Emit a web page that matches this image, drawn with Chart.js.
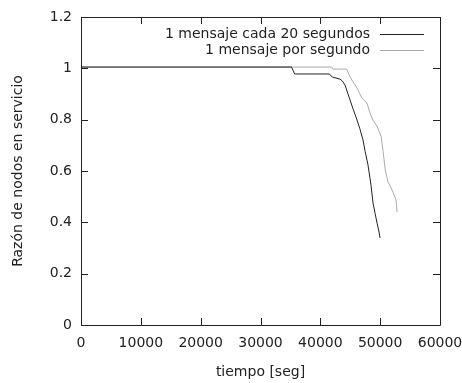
<!DOCTYPE html>
<html>
<head>
    <title>Razón de nodos en servicio</title>
    <style>
        body, html {
            margin: 0;
            padding: 0;
            background: #fff;
        }
        #wrap {
            width: 462px;
            height: 383px;
        }
    </style>
</head>
<body>
    <div id="wrap"><canvas id="grafico"></canvas></div>

    <script src="https://cdn.jsdelivr.net/npm/chart.js"></script>
    <script>
        // 1 mensaje cada 20 segundos
        let tiempoLento = [0, 35200, 35700, 41500, 42000, 43300, 43700, 44125, 44960, 45500, 46130, 46600, 47130,
                           47500, 47970, 48470, 48810, 49150, 49480, 49750, 49980];
        let razonLenta  = [1.005, 1.005, 0.978, 0.978, 0.966, 0.958, 0.950, 0.935, 0.877, 0.840, 0.799, 0.765, 0.721,
                           0.675, 0.623, 0.545, 0.475, 0.435, 0.397, 0.370, 0.339];

        // 1 mensaje por segundo
        let tiempoRapido = [0, 41900, 42100, 44400, 44800, 45290, 46130, 46960, 47800, 48300, 48800, 49470, 50150,
                            50500, 50850, 51310, 51700, 52150, 52650, 52820];
        let razonRapida  = [1.005, 1.005, 0.997, 0.997, 0.975, 0.954, 0.923, 0.884, 0.865, 0.826, 0.798, 0.775, 0.735,
                            0.675, 0.604, 0.557, 0.540, 0.518, 0.487, 0.440];

        let etiquetas = ['1 mensaje cada 20 segundos', '1 mensaje por segundo'];
        let colores = ['#222222', '#aaaaaa'];

        let ticksX = [0, 10000, 20000, 30000, 40000, 50000, 60000];
        let ticksY = [0, 0.2, 0.4, 0.6, 0.8, 1, 1.2];

        let fuente = 'DejaVu Sans';
        Chart.defaults.font.family = fuente;
        Chart.defaults.font.size = 14;
        Chart.defaults.color = '#222';

        function puntos(xs, ys) {
            return xs.map((x, i) => ({ x: x, y: ys[i] }));
        }

        // ticks hacia dentro, marco completo y leyenda estilo gnuplot
        let marco = {
            id: 'marco',
            afterDraw(chart) {
                let ctx = chart.ctx;
                let a = chart.chartArea;
                let sx = chart.scales.x, sy = chart.scales.y;
                let largo = 7;
                ctx.save();
                ctx.strokeStyle = '#222';
                ctx.lineWidth = 1;
                ctx.beginPath();
                ctx.rect(Math.round(a.left) + 0.5, Math.round(a.top) + 0.5,
                         Math.round(a.right - a.left), Math.round(a.bottom - a.top));
                ticksX.forEach(v => {
                    let px = Math.round(sx.getPixelForValue(v)) + 0.5;
                    ctx.moveTo(px, a.bottom); ctx.lineTo(px, a.bottom - largo);
                    ctx.moveTo(px, a.top); ctx.lineTo(px, a.top + largo);
                });
                ticksY.forEach(v => {
                    let py = Math.round(sy.getPixelForValue(v)) + 0.5;
                    ctx.moveTo(a.left, py); ctx.lineTo(a.left + largo, py);
                    ctx.moveTo(a.right, py); ctx.lineTo(a.right - largo, py);
                });
                ctx.stroke();

                // leyenda
                ctx.font = '14px "' + fuente + '"';
                ctx.textAlign = 'right';
                ctx.textBaseline = 'middle';
                let filas = [34, 50];
                etiquetas.forEach((txt, i) => {
                    ctx.fillStyle = '#222';
                    ctx.fillText(txt, 370, filas[i]);
                    ctx.strokeStyle = colores[i];
                    ctx.beginPath();
                    ctx.moveTo(380, filas[i] + 0.5);
                    ctx.lineTo(424, filas[i] + 0.5);
                    ctx.stroke();
                });
                ctx.restore();
            }
        };

        new Chart(document.getElementById('grafico'), {
            type: 'line',
            data: {
                datasets: [{
                    label: etiquetas[0],
                    data: puntos(tiempoLento, razonLenta),
                    borderColor: colores[0],
                    borderWidth: 1,
                    pointRadius: 0,
                    tension: 0
                }, {
                    label: etiquetas[1],
                    data: puntos(tiempoRapido, razonRapida),
                    borderColor: colores[1],
                    borderWidth: 1,
                    pointRadius: 0,
                    tension: 0
                }]
            },
            options: {
                responsive: true,
                maintainAspectRatio: false,
                animation: false,
                layout: { padding: { top: 17, right: 22, left: 0, bottom: 0 } },
                plugins: {
                    legend: { display: false },
                    tooltip: { enabled: false }
                },
                scales: {
                    x: {
                        type: 'linear',
                        min: 0,
                        max: 60000,
                        afterFit: s => { s.height = 58; s.paddingLeft = 0; s.paddingRight = 0; },
                        afterBuildTicks: s => { s.ticks = ticksX.map(v => ({ value: v })); },
                        grid: { display: false, drawTicks: false },
                        border: { display: false },
                        ticks: { padding: 10, maxRotation: 0, autoSkip: false, callback: v => String(v) },
                        title: { display: true, text: 'tiempo [seg]', padding: { top: 0, bottom: 2 } }
                    },
                    y: {
                        min: 0,
                        max: 1.2,
                        afterFit: s => { s.width = 81; s.paddingTop = 0; s.paddingBottom = 0; },
                        afterBuildTicks: s => { s.ticks = ticksY.map(v => ({ value: v })); },
                        grid: { display: false, drawTicks: false },
                        border: { display: false },
                        ticks: { padding: 9, callback: v => String(v) },
                        title: { display: true, text: 'Razón de nodos en servicio', padding: { top: 10, bottom: 0 } }
                    }
                }
            },
            plugins: [marco]
        });
    </script>
</body>
</html>
